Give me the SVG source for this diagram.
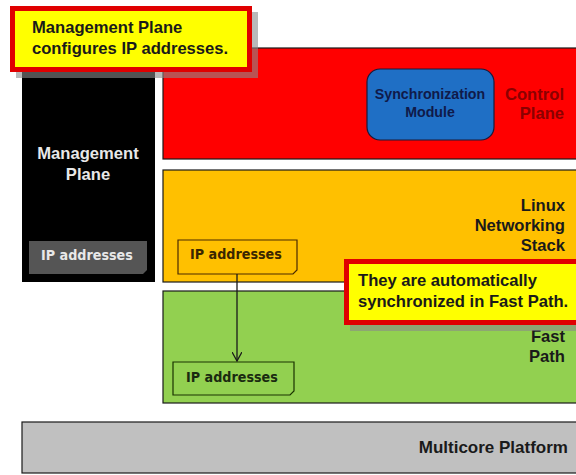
<svg xmlns="http://www.w3.org/2000/svg" width="576" height="475" viewBox="0 0 576 475">
<style>
.lbl{font-family:"Liberation Sans",Arial,sans-serif;font-weight:bold;font-size:16.6px}
.ip{font-family:"DejaVu Sans Condensed","DejaVu Sans",sans-serif;font-weight:bold;font-size:14.2px}
.layer{stroke:#1a1a1a;stroke-width:1.2}
.callout{fill:#FFFF00;stroke:#E00000;stroke-width:5}
.shadow{fill:#8a8a8a;opacity:0.6}
</style>
<defs>
<marker id="vee" viewBox="0 0 10 10" refX="9" refY="5" markerWidth="10" markerHeight="10" markerUnits="userSpaceOnUse" orient="auto">
<path d="M0,0 L9,5 L0,10" fill="none" stroke="#1a1a1a" stroke-width="1.3"/>
</marker>
</defs>
<rect width="576" height="475" fill="#ffffff"/>

<g id="platform">
<rect class="layer" x="22" y="422" width="570" height="51" fill="#C0C0C0"/>
<text class="lbl" x="568" y="453" text-anchor="end" fill="#1a1a1a" style="font-size:17px">Multicore Platform</text>
</g>

<g id="management-plane">
<rect x="22" y="45" width="133" height="237" fill="#000000"/>
<text class="lbl" x="88" y="159" text-anchor="middle" fill="#e8e8e8">Management</text>
<text class="lbl" x="88" y="180" text-anchor="middle" fill="#e8e8e8">Plane</text>
</g>
<g id="mgmt-ip">
<path d="M29,241 H147 V270 L143,274 H29 Z" fill="#555555"/>
<text class="ip" x="41" y="260" fill="#e8e8e8">IP addresses</text>
</g>

<g id="control-plane">
<rect class="layer" x="163" y="48" width="420" height="111" fill="#FF0000"/>
<text class="lbl" x="564" y="100" text-anchor="end" fill="#8B0000">Control</text>
<text class="lbl" x="564" y="119" text-anchor="end" fill="#8B0000">Plane</text>
</g>
<g id="sync-module">
<rect x="367" y="69" width="127" height="71" rx="13" fill="#1F6FC5" stroke="#1a1a3a" stroke-width="1.2"/>
<text class="lbl" x="430" y="99" text-anchor="middle" fill="#101a4a" style="font-size:14.2px">Synchronization</text>
<text class="lbl" x="430" y="117" text-anchor="middle" fill="#101a4a" style="font-size:14.2px">Module</text>
</g>

<g id="linux-stack">
<rect class="layer" x="163" y="170" width="420" height="112" fill="#FFC000"/>
<text class="lbl" x="565" y="211" text-anchor="end" fill="#1a1a1a">Linux</text>
<text class="lbl" x="565" y="231" text-anchor="end" fill="#1a1a1a">Networking</text>
<text class="lbl" x="565" y="251" text-anchor="end" fill="#1a1a1a">Stack</text>
</g>
<g id="linux-ip">
<path d="M178,240 H297 V270 L293,274 H178 Z" fill="#FFC000" stroke="#4a2a00" stroke-width="1.2"/>
<text class="ip" x="190" y="259" fill="#3a2600">IP addresses</text>
</g>

<g id="fast-path">
<rect class="layer" x="163" y="291" width="420" height="112" fill="#92D050"/>
<text class="lbl" x="565" y="342" text-anchor="end" fill="#1a1a1a">Fast</text>
<text class="lbl" x="565" y="362" text-anchor="end" fill="#1a1a1a">Path</text>
</g>
<g id="fast-ip">
<path d="M173,362 H294 V391 L290,395 H173 Z" fill="#92D050" stroke="#1a3300" stroke-width="1.2"/>
<text class="ip" x="186" y="382" fill="#1a2a10">IP addresses</text>
</g>

<g id="connectors">
<line x1="237" y1="274" x2="237" y2="361" stroke="#1a1a1a" stroke-width="1.3" marker-end="url(#vee)"/>
</g>

<g id="callout-top">
<rect class="shadow" x="16" y="12" width="242" height="66"/>
<rect class="callout" x="12.5" y="8.5" width="237" height="61"/>
<text class="lbl" x="32" y="33" fill="#1a1a1a">Management Plane</text>
<text class="lbl" x="32" y="54" fill="#1a1a1a">configures IP addresses.</text>
</g>

<g id="callout-sync">
<rect class="shadow" x="350" y="265" width="240" height="66"/>
<rect class="callout" x="346.5" y="261.5" width="240" height="61"/>
<text class="lbl" x="358" y="286" fill="#1a1a1a">They are automatically</text>
<text class="lbl" x="358" y="307" fill="#1a1a1a">synchronized in Fast Path.</text>
</g>
</svg>
